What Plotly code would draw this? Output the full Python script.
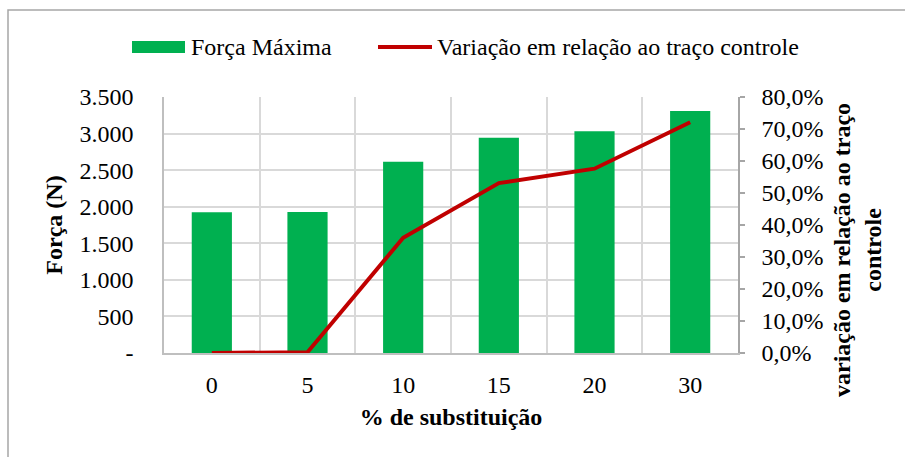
import plotly.graph_objects as go

# Data
categorias = ["0", "5", "10", "15", "20", "30"]
forca_maxima = [1923, 1928, 2616, 2944, 3031, 3309]          # N
variacao_pct = [0.0, 0.26, 36.0, 53.1, 57.6, 72.1]          # % em relação ao traço controle

forca_ticks = [0, 500, 1000, 1500, 2000, 2500, 3000, 3500]
forca_ticktext = ["-", "500", "1.000", "1.500", "2.000", "2.500", "3.000", "3.500"]
var_ticks = [0, 10, 20, 30, 40, 50, 60, 70, 80]
var_ticktext = ["0,0%", "10,0%", "20,0%", "30,0%", "40,0%", "50,0%", "60,0%", "70,0%", "80,0%"]

W, H = 905, 457
ML, MR, MT, MB = 164, 167, 97, 104
PW, PH = W - ML - MR, H - MT - MB


def px(x):
    return (x - ML) / PW


def py(y):
    return (H - MB - y) / PH


FONT = "Liberation Serif, Times New Roman, serif"
FS = 24
GREEN = "#00B050"
RED = "#C00000"

fig = go.Figure()
fig.add_trace(go.Bar(
    x=categorias, y=forca_maxima, name="Força Máxima",
    marker=dict(color=GREEN, line=dict(width=0)), yaxis="y",
))
fig.add_trace(go.Scatter(
    x=categorias, y=variacao_pct, name="Variação em relação ao traço controle",
    mode="lines", line=dict(color=RED, width=4), yaxis="y2", cliponaxis=False,
))

shapes = [
    # chart border
    dict(type="rect", xref="paper", yref="paper", x0=px(8), x1=px(920), y0=py(470), y1=py(10),
         line=dict(color="#A6A6A6", width=1.5), fillcolor="rgba(0,0,0,0)", layer="below"),
    # legend swatches
    dict(type="rect", xref="paper", yref="paper", x0=px(132), x1=px(185), y0=py(53), y1=py(41),
         line=dict(width=0), fillcolor=GREEN),
    dict(type="line", xref="paper", yref="paper", x0=px(378), x1=px(432), y0=py(47), y1=py(47),
         line=dict(color=RED, width=4)),
]

annotations = [
    dict(text="Força Máxima", xref="paper", yref="paper", x=px(189), y=py(47),
         xanchor="left", yanchor="middle", showarrow=False,
         font=dict(family=FONT, size=FS, color="#000")),
    dict(text="Variação em relação ao traço controle", xref="paper", yref="paper", x=px(435), y=py(47),
         xanchor="left", yanchor="middle", showarrow=False,
         font=dict(family=FONT, size=FS, color="#000")),
    dict(text="<b>variação em relação ao traço<br>controle</b>", xref="paper", yref="paper",
         x=px(857), y=py(250), xanchor="center", yanchor="middle", textangle=-90, showarrow=False,
         font=dict(family=FONT, size=FS, color="#000")),
]

fig.update_layout(
    width=W, height=H,
    margin=dict(l=ML, r=MR, t=MT, b=MB, autoexpand=False),
    paper_bgcolor="white", plot_bgcolor="white",
    font=dict(family=FONT, size=FS, color="#000"),
    showlegend=False,
    bargap=0.58,
    shapes=shapes,
    annotations=annotations,
    xaxis=dict(
        type="category", tickson="boundaries", ticks="", showgrid=True,
        gridcolor="#D9D9D9", gridwidth=1.5,
        showline=True, linecolor="#BFBFBF", linewidth=1.5,
        ticklabelstandoff=9,
        title=dict(text="<b>% de substituição</b>", standoff=12, font=dict(size=FS)),
    ),
    yaxis=dict(
        range=[0, 3500], tickvals=forca_ticks, ticktext=forca_ticktext,
        showgrid=True, gridcolor="#D9D9D9", gridwidth=1.5,
        showline=True, linecolor="#BFBFBF", linewidth=1.5,
        ticks="", ticklabelstandoff=24, zeroline=False,
        title=dict(text="<b>Força (N)</b>", standoff=10, font=dict(size=FS)),
    ),
    yaxis2=dict(
        overlaying="y", side="right", range=[0, 80],
        tickvals=var_ticks, ticktext=var_ticktext,
        showgrid=False, zeroline=False,
        showline=True, linecolor="#A6A6A6", linewidth=1.5,
        ticks="outside", ticklen=5, tickcolor="#A6A6A6", tickwidth=1.5,
        ticklabelstandoff=12,
    ),
)

fig.write_html("out.html")
